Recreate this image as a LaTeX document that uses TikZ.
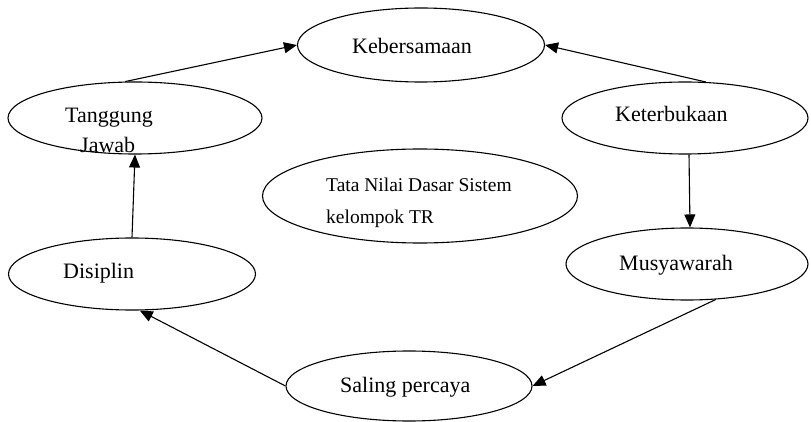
\documentclass[tikz,border=0pt]{standalone}
\usepackage{fontspec}
\setmainfont{Liberation Serif}
\usetikzlibrary{shapes.geometric, arrows.meta}

\begin{document}
\begin{tikzpicture}[x=1pt, y=-1pt,
    oval/.style={draw, ellipse, line width=1.1pt, inner sep=0pt},
    lbl/.style={anchor=base west, inner sep=0pt, font=\fontsize{22}{26}\selectfont},
    small/.style={anchor=base west, inner sep=0pt, font=\fontsize{19.5}{24}\selectfont},
    arr/.style={line width=1.1pt, -{Triangle[length=13pt, width=11pt]}}]
  \useasboundingbox (0,0) rectangle (811,422);
  % the ovals
  \node[oval, minimum width=247, minimum height=74] (keb) at (421,45) {};
  \node[oval, minimum width=254, minimum height=72] (tj)  at (135,118) {};
  \node[oval, minimum width=246, minimum height=72] (ket) at (685,118) {};
  \node[oval, minimum width=315, minimum height=94] (tnd) at (420,196) {};
  \node[oval, minimum width=247, minimum height=72] (dis) at (132,274) {};
  \node[oval, minimum width=242, minimum height=72] (mus) at (687,264) {};
  \node[oval, minimum width=246, minimum height=70] (sal) at (409,386) {};
  % their texts
  \node[lbl] (kebtxt) at (352,54) {Kebersamaan};
  \node[lbl] (tjtxt1) at (65,123) {Tanggung};
  \node[lbl] (tjtxt2) at (80,153) {Jawab};
  \node[lbl] (kettxt) at (615,122) {Keterbukaan};
  \node[small] (tndtxt1) at (326,192) {Tata Nilai Dasar Sistem};
  \node[small] (tndtxt2) at (326,223) {kelompok TR};
  \node[lbl] (distxt) at (63,278) {Disiplin};
  \node[lbl] (mustxt) at (619,270) {Musyawarah};
  \node[lbl] (saltxt) at (340,392) {Saling percaya};
  % the cycle
  \draw[arr] (tj.105) -- (keb.west);
  \draw[arr] (ket.60) -- (keb.east);
  \draw[arr] ([xshift=4pt]ket.south) -- ([xshift=3pt]mus.north);
  \draw[arr] (mus.309) -- (sal.east);
  \draw[arr] (sal.west) -- (dis.282);
  \draw[arr] (dis.north) -- (tj.south);
\end{tikzpicture}
\end{document}
